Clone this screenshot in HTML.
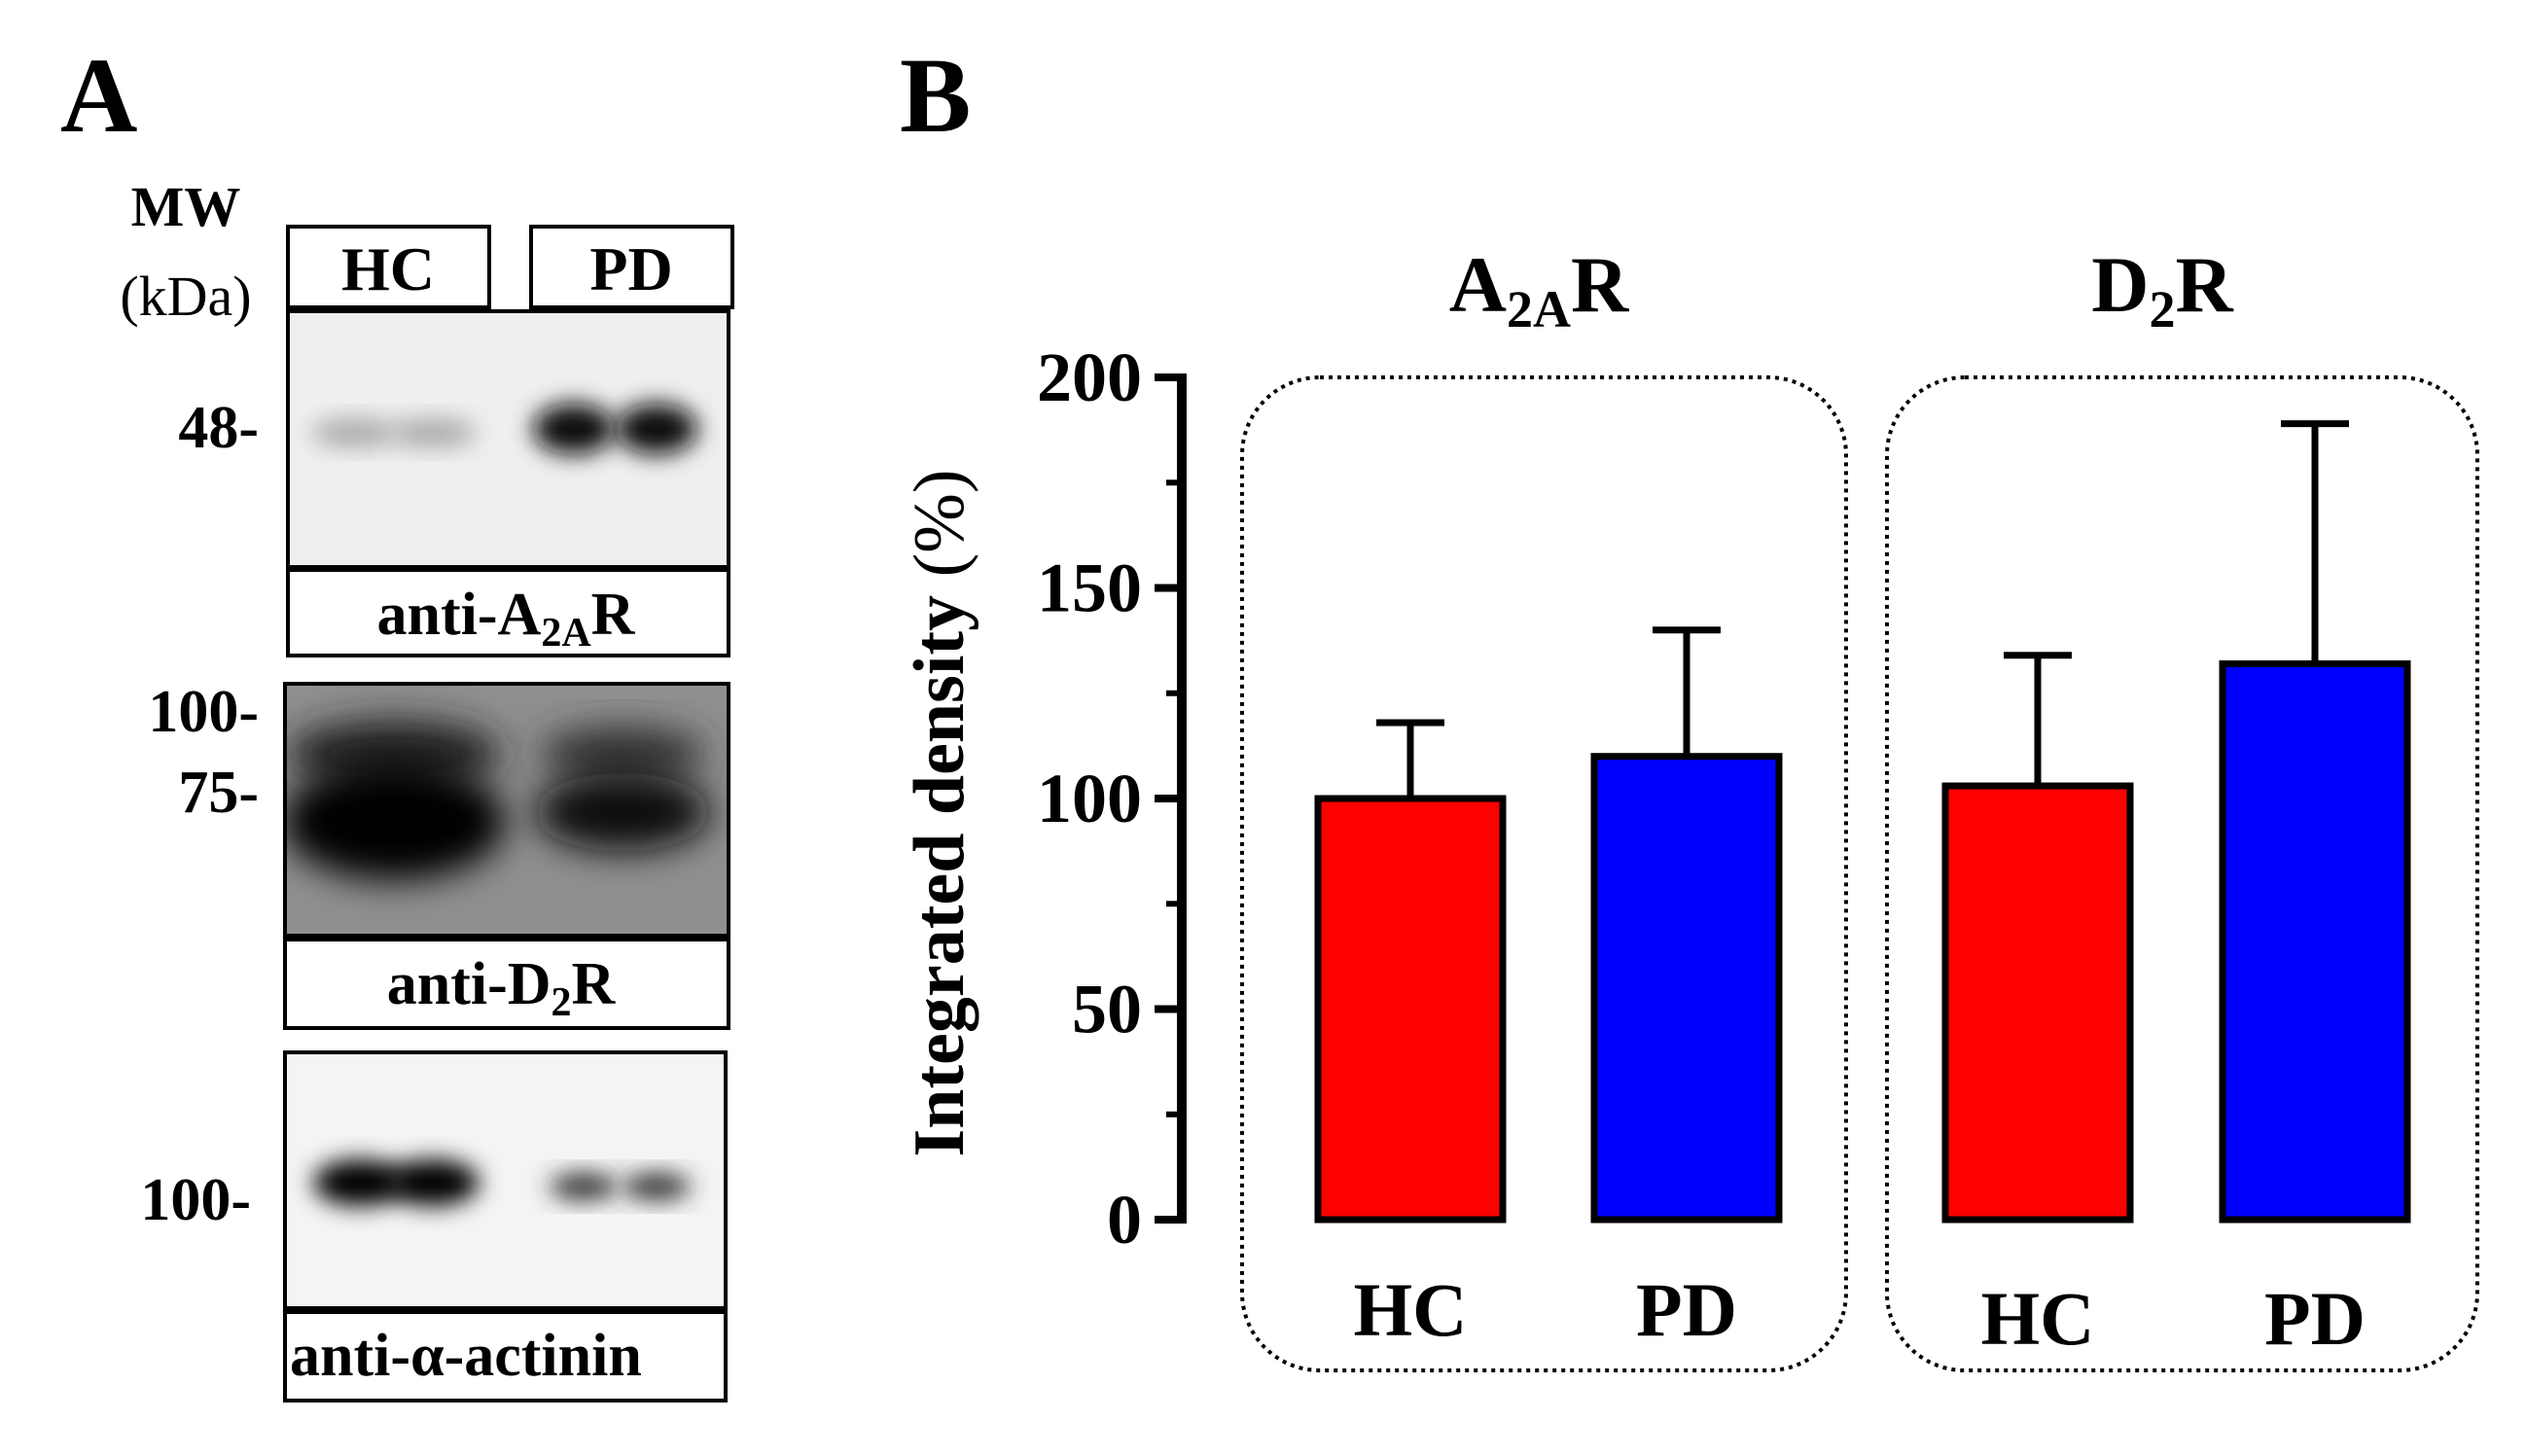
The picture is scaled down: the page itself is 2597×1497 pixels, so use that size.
<!DOCTYPE html>
<html><head><meta charset="utf-8"><style>
html,body{margin:0;padding:0;background:#fff}
svg{display:block}
text{font-family:"Liberation Serif",serif;font-weight:bold;fill:#000}
</style></head><body>
<svg width="2597" height="1497" viewBox="0 0 2597 1497">
<defs>
<filter id="bl" x="-50%" y="-50%" width="200%" height="200%"><feGaussianBlur stdDeviation="12"/></filter>
<filter id="bl2" x="-50%" y="-50%" width="200%" height="200%"><feGaussianBlur stdDeviation="18"/></filter>
<clipPath id="c1"><rect x="296" y="320" width="453" height="263"/></clipPath>
<clipPath id="c2"><rect x="293" y="703" width="456" height="259"/></clipPath>
<clipPath id="c3"><rect x="293" y="1082" width="453" height="263"/></clipPath>
</defs>
<!-- Panel A -->
<text x="62" y="135" font-size="110">A</text>
<text x="191" y="232" font-size="58" text-anchor="middle">MW</text>
<text x="191" y="324" font-size="58" text-anchor="middle" style="font-weight:normal">(kDa)</text>
<rect x="296" y="233" width="207" height="83" fill="#fff" stroke="#000" stroke-width="4"/>
<text x="399" y="298" font-size="64" text-anchor="middle">HC</text>
<rect x="546" y="233" width="207" height="83" fill="#fff" stroke="#000" stroke-width="4"/>
<text x="649" y="298" font-size="64" text-anchor="middle">PD</text>

<g>
<rect x="296" y="320" width="453" height="263" fill="#efefef" stroke="#000" stroke-width="4"/>
<g clip-path="url(#c1)">
<ellipse cx="365" cy="445" rx="45" ry="15" fill="#aaa" filter="url(#bl)"/>
<ellipse cx="445" cy="445" rx="45" ry="15" fill="#aaa" filter="url(#bl)"/>
<ellipse cx="590" cy="441" rx="42" ry="26" fill="#111" filter="url(#bl)"/>
<ellipse cx="675" cy="441" rx="42" ry="26" fill="#111" filter="url(#bl)"/>
</g></g>
<rect x="296" y="586" width="453" height="88" fill="#fff" stroke="#000" stroke-width="4"/>
<text x="520" y="652" font-size="62" text-anchor="middle">anti-A<tspan font-size="42" dy="12">2A</tspan><tspan dy="-12">R</tspan></text>

<g>
<rect x="293" y="703" width="456" height="259" fill="#8f8f8f" stroke="#000" stroke-width="4"/>
<g clip-path="url(#c2)">
<ellipse cx="405" cy="775" rx="110" ry="35" fill="#222" filter="url(#bl2)"/>
<ellipse cx="405" cy="845" rx="115" ry="60" fill="#000" filter="url(#bl2)"/>
<ellipse cx="640" cy="775" rx="85" ry="28" fill="#333" filter="url(#bl2)"/>
<ellipse cx="640" cy="835" rx="90" ry="40" fill="#111" filter="url(#bl2)"/>
</g></g>
<rect x="293" y="966" width="456" height="91" fill="#fff" stroke="#000" stroke-width="4"/>
<text x="515" y="1032" font-size="62" text-anchor="middle">anti-D<tspan font-size="42" dy="12">2</tspan><tspan dy="-12">R</tspan></text>

<g>
<rect x="293" y="1082" width="453" height="263" fill="#f4f4f4" stroke="#000" stroke-width="4"/>
<g clip-path="url(#c3)">
<ellipse cx="370" cy="1216" rx="48" ry="24" fill="#000" filter="url(#bl)"/>
<ellipse cx="445" cy="1216" rx="48" ry="24" fill="#000" filter="url(#bl)"/>
<ellipse cx="600" cy="1220" rx="35" ry="14" fill="#333" filter="url(#bl)"/>
<ellipse cx="675" cy="1220" rx="35" ry="14" fill="#333" filter="url(#bl)"/>
</g></g>
<rect x="293" y="1349" width="453" height="91" fill="#fff" stroke="#000" stroke-width="4"/>
<text x="298" y="1414" font-size="62">anti-α-actinin</text>

<text x="266" y="460" font-size="62" text-anchor="end">48-</text>
<text x="266" y="752" font-size="62" text-anchor="end">100-</text>
<text x="266" y="835" font-size="62" text-anchor="end">75-</text>
<text x="258" y="1254" font-size="62" text-anchor="end">100-</text>

<!-- Panel B -->
<text x="925" y="135" font-size="110">B</text>
<rect x="1277" y="388" width="621" height="1021" rx="80" fill="none" stroke="#000" stroke-width="4" stroke-dasharray="4 5"/>
<rect x="1940" y="388" width="607" height="1021" rx="80" fill="none" stroke="#000" stroke-width="4" stroke-dasharray="4 5"/>
<text x="1582" y="320" font-size="82" text-anchor="middle">A<tspan font-size="54" dy="16">2A</tspan><tspan dy="-16">R</tspan></text>
<text x="2223" y="320" font-size="82" text-anchor="middle">D<tspan font-size="54" dy="16">2</tspan><tspan dy="-16">R</tspan></text>
<text transform="translate(990,836) rotate(-90)" font-size="74" text-anchor="middle">Integrated density <tspan style="font-weight:normal">(%)</tspan></text>
<g id="chart"></g>
</svg>
<script>
const categories=['HC','PD','HC','PD'];
const groups=['A2AR','A2AR','D2R','D2R'];
const means=[100,110,103,132];
const errs=[18,30,31,57];
const ticks=[0,50,100,150,200];
const minorTicks=[25,75,125,175];
const colors=['#ff0000','#0000ff','#ff0000','#0000ff'];
const barCenters=[1450,1734,2095,2380];
const NS='http://www.w3.org/2000/svg';
const g=document.getElementById('chart');
const y0=1254,y1=388,axX=1215;
function y(v){return y0-(v/200)*(y0-y1);}
function mk(t,a){const e=document.createElementNS(NS,t);for(const k in a)e.setAttribute(k,a[k]);g.appendChild(e);return e;}
const ax=mk('line',{x1:axX,y1:y(200)-4,x2:axX,y2:y(0)+4,stroke:'#000','stroke-width':10});


ticks.forEach(t=>{
 const l=mk('line',{x1:axX-28,x2:axX,y1:y(t),y2:y(t),stroke:'#000','stroke-width':8});
 
 
 const tx=mk('text',{x:1174,y:y(t)+24,'font-size':72,'text-anchor':'end'});
 tx.textContent=t;
 
 
});
minorTicks.forEach(t=>{
 const l=mk('line',{x1:axX-16,x2:axX,y1:y(t),y2:y(t),stroke:'#000','stroke-width':6});
 
 
});
means.forEach((m,i)=>{
 const cx=barCenters[i],w=190;
 const e=mk('line',{x1:cx,x2:cx,y1:y(m),y2:y(m+errs[i]),stroke:'#000','stroke-width':7});
 
 
 const c=mk('line',{x1:cx-35,x2:cx+35,y1:y(m+errs[i]),y2:y(m+errs[i]),stroke:'#000','stroke-width':7});
 
 
 const r=mk('rect',{x:cx-w/2,y:y(m),width:w,height:y(0)-y(m),fill:colors[i],stroke:'#000','stroke-width':7});
 
 
 const tx=mk('text',{x:cx,y:i<2?1373:1382,'font-size':78,'text-anchor':'middle'});
 tx.textContent=categories[i];
 
 
});
</script>
</body></html>
